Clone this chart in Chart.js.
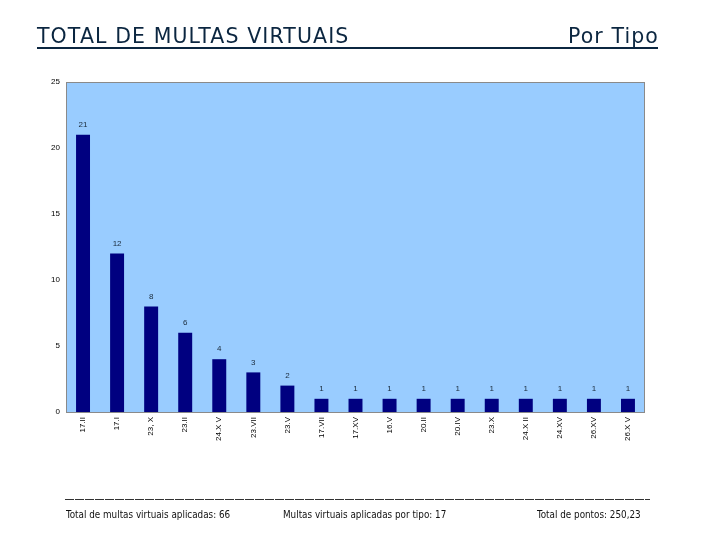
<!DOCTYPE html>
<html>
<head>
<meta charset="utf-8">
<script src="https://cdn.jsdelivr.net/npm/chart.js@4"></script>
<style>
  body { margin: 0; background: #fff; }
  #wrap { position: relative; width: 720px; height: 540px; overflow: hidden; }
  #chartBox { position: absolute; left: 0; top: 0; width: 720px; height: 540px; }
  .head { position: absolute; top: 24px; font-family: "DejaVu Sans", sans-serif; font-size: 20.5px; letter-spacing: 1.1px; color: #0b2640; white-space: nowrap; }
  #underline { position: absolute; left: 37px; top: 47px; width: 621px; height: 2px; background: #0b2640; }
  #dash { position: absolute; left: 65px; top: 499px; width: 585px; height: 1px;
    background: repeating-linear-gradient(90deg, #333 0 9px, transparent 9px 10px); }
  .foot { position: absolute; top: 509px; font-family: "DejaVu Sans Condensed", "DejaVu Sans", sans-serif; font-stretch: condensed; font-size: 9.8px; color: #111; }
</style>
</head>
<body>
<div id="wrap">
  <div id="chartBox"><canvas id="myChart"></canvas></div>
  <div class="head" style="left:37px">TOTAL DE MULTAS VIRTUAIS</div>
  <div class="head" style="right:61px">Por Tipo</div>
  <div id="underline"></div>
  <div id="dash"></div>
  <div class="foot" style="left:66px">Total de multas virtuais aplicadas: 66</div>
  <div class="foot" style="left:283px">Multas virtuais aplicadas por tipo: 17</div>
  <div class="foot" style="left:537px">Total de pontos: 250,23</div>
</div>
<script>
// Categories and values
const categories = ["17.II", "17.I", "23, X", "23.II", "24.X V", "23.VII", "23.V", "17.VII",
  "17.XV", "16.V", "20.II", "20.IV", "23.X", "24.X II", "24.XV", "26.XV", "26.X V"];
const counts = [21, 12, 8, 6, 4, 3, 2, 1, 1, 1, 1, 1, 1, 1, 1, 1, 1];
const yTicks = [0, 5, 10, 15, 20, 25];

// Light blue plot area with grey border
const plotBackground = {
  id: "plotBackground",
  beforeDraw(chart) {
    const a = chart.chartArea;
    const ctx = chart.ctx;
    ctx.save();
    ctx.fillStyle = "#99ccff";
    ctx.fillRect(a.left, a.top, a.right - a.left, a.bottom - a.top);
    ctx.strokeStyle = "#8a8a8a";
    ctx.lineWidth = 1;
    ctx.strokeRect(a.left + 0.5, a.top + 0.5, a.right - a.left - 1, a.bottom - a.top);
    ctx.restore();
  }
};

// Value labels above the bars
const valueLabels = {
  id: "valueLabels",
  afterDatasetsDraw(chart) {
    const ctx = chart.ctx;
    const meta = chart.getDatasetMeta(0);
    ctx.save();
    ctx.font = "8px 'Liberation Sans', Arial, sans-serif";
    ctx.fillStyle = "#1a2a3a";
    ctx.textAlign = "center";
    ctx.textBaseline = "bottom";
    meta.data.forEach((bar, i) => {
      ctx.fillText(counts[i], bar.x, bar.y - 6);
    });
    ctx.restore();
  }
};

const ctx = document.querySelector("#myChart").getContext("2d");
new Chart(ctx, {
  type: "bar",
  data: {
    labels: categories,
    datasets: [{
      data: counts,
      backgroundColor: "#000080",
      barPercentage: 0.82,
      categoryPercentage: 0.5
    }]
  },
  options: {
    responsive: true,
    maintainAspectRatio: false,
    animation: false,
    layout: { padding: { top: 82, right: 75, bottom: 88, left: 0 } },
    plugins: { legend: { display: false }, tooltip: { enabled: false } },
    scales: {
      y: {
        min: 0,
        max: 25,
        afterBuildTicks: (axis) => { axis.ticks = yTicks.map((v) => ({ value: v })); },
        afterFit: (axis) => { axis.width = 66; },
        grid: { display: false, drawTicks: false },
        border: { display: false },
        ticks: { color: "#000", padding: 6, font: { size: 8, family: "Liberation Sans, Arial, sans-serif" } }
      },
      x: {
        afterFit: (axis) => { axis.height = 40; },
        grid: { display: false, drawTicks: false },
        border: { display: false },
        ticks: {
          color: "#000",
          padding: 5,
          minRotation: 90,
          maxRotation: 90,
          autoSkip: false,
          font: { size: 8, family: "Liberation Sans, Arial, sans-serif" }
        }
      }
    }
  },
  plugins: [plotBackground, valueLabels]
});
</script>
</body>
</html>
